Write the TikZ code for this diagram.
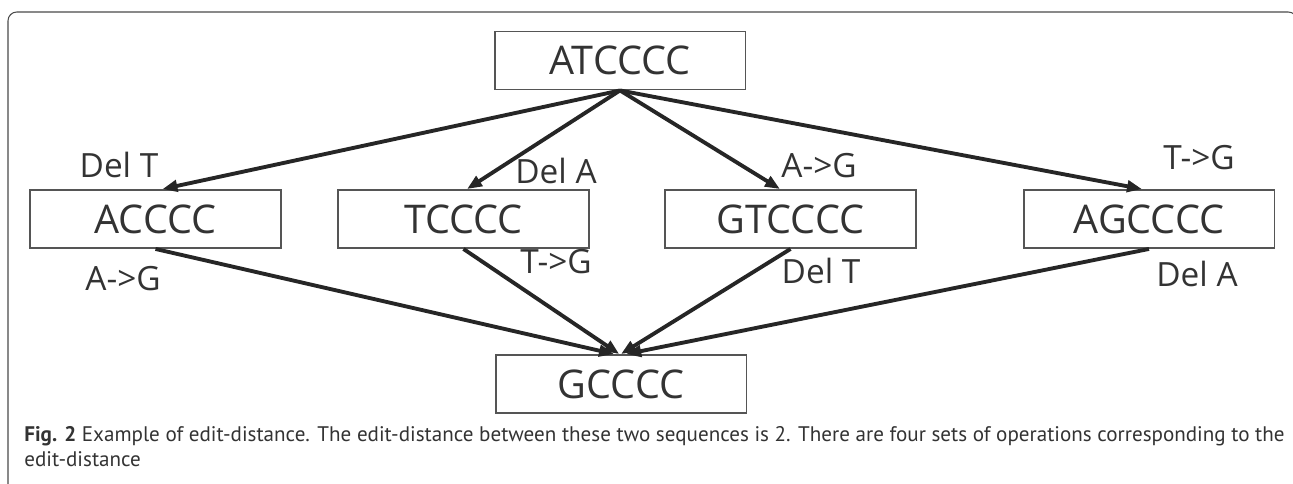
\documentclass[tikz,border=0pt]{standalone}
\usepackage{fontspec}
\setsansfont{Open Sans}
\newfontfamily\capfont{PT Sans}
\usetikzlibrary{arrows.meta}
\definecolor{edink}{HTML}{333333}
\definecolor{edline}{HTML}{555555}
\definecolor{edarrow}{HTML}{262626}
\definecolor{edframe}{HTML}{4A4A4A}
\tikzset{
  ed box/.style={draw=edline, line width=1.1pt, fill=white, minimum width=5.02cm,
    minimum height=1.16cm, inner sep=0pt, font=\sffamily\fontsize{22.5}{25}\selectfont, text=edink},
  ed arrow/.style={-{Triangle[length=8.5pt,width=6.5pt]}, line width=2.2pt, draw=edarrow},
  ed label/.style={font=\sffamily\fontsize{19}{22}\selectfont, text=edink, anchor=base, inner sep=0pt},
  ed caption/.style={font=\capfont\fontsize{12}{14}\selectfont, text=edink, align=left,
    anchor=base west, inner sep=0pt}
}

\begin{document}
\begin{tikzpicture}[x=0.02cm, y=-0.02cm]
  \useasboundingbox (0,0) rectangle (1293,483);
  \clip (0,0) rectangle (1293,483);
  \draw[edframe, line width=0.6pt, rounded corners=5pt] (8,12) rectangle (1297,500);
  % sequences
  \node[ed box] (atcccc) at (620,60.5) {ATCCCC};
  \node[ed box] (acccc) at (155.5,219) {ACCCC};
  \node[ed box] (tcccc) at (463.5,219) {TCCCC};
  \node[ed box] (gtcccc) at (790.5,219) {GTCCCC};
  \node[ed box] (agcccc) at (1149,219) {AGCCCC};
  \node[ed box] (gcccc) at (621,384) {GCCCC};
  % first operation
  \draw[ed arrow] (atcccc.south) -- ([xshift=4pt]acccc.north);
  \draw[ed arrow] (atcccc.south) -- ([xshift=2pt]tcccc.north);
  \draw[ed arrow] (atcccc.south) -- ([xshift=-6pt]gtcccc.north);
  \draw[ed arrow] (atcccc.south) -- ([xshift=-4pt]agcccc.north);
  % second operation
  \draw[ed arrow] (acccc.south) -- ([xshift=-4pt]gcccc.north);
  \draw[ed arrow] (tcccc.south) -- ([xshift=-1pt]gcccc.north);
  \draw[ed arrow] (gtcccc.south) -- (gcccc.north);
  \draw[ed arrow] (agcccc.south) -- ([xshift=3pt]gcccc.north);
  % labels
  \node[ed label] (op1) at (119,177) {Del T};
  \node[ed label] (op2) at (556,183) {Del A};
  \node[ed label] (op3) at (819,177) {A->G};
  \node[ed label] (op4) at (1199,169) {T->G};
  \node[ed label] (op5) at (123,290) {A->G};
  \node[ed label] (op6) at (556,273) {T->G};
  \node[ed label] (op7) at (821,283) {Del T};
  \node[ed label] (op8) at (1197,286) {Del A};
  % caption (base = last line)
  \node[ed caption] (cap) at (24,466) {\textbf{Fig. 2} Example of edit-distance. The edit-distance between these two sequences is 2. There are four sets of operations corresponding to the\\edit-distance};
\end{tikzpicture}
\end{document}
